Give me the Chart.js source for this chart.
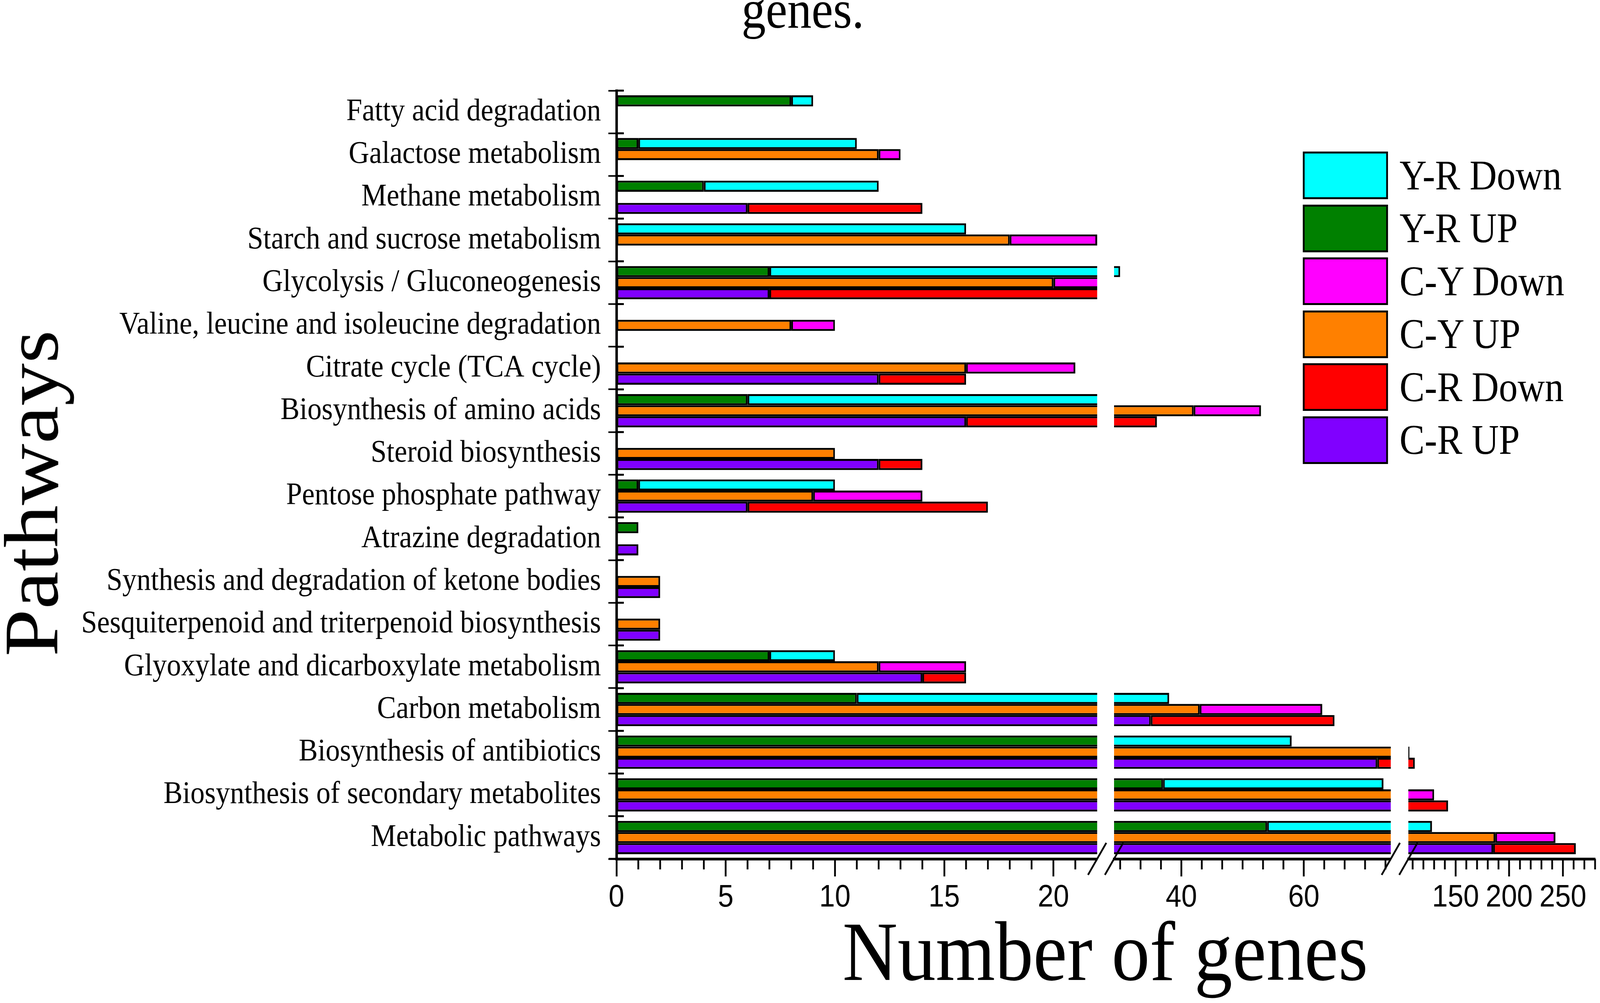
<!DOCTYPE html>
<html>
<head>
<meta charset="utf-8">
<title>Pathways / Number of genes</title>
<script src="https://cdn.jsdelivr.net/npm/chart.js@4.4.1/dist/chart.umd.min.js"></script>
<style>
  html, body { margin: 0; padding: 0; background: #fff; overflow: hidden; }
  #wrap { position: absolute; left: 0; top: 0; width: 4550px; height: 2568px; overflow: hidden;
          transform-origin: 0 0;
          font-family: "Liberation Serif", "Times New Roman", serif; color: #000; }
  #wrap canvas { position: absolute; left: 0; top: 0; }
  .txt { position: absolute; white-space: nowrap; line-height: 1; }
  #topTitle { left: 2283px; top: -44px; font-size: 138px; transform: translateX(-50%); }
  #xTitle { left: 3143px; top: 2328px; font-size: 217px; transform: translateX(-50%); }
  #yTitle { left: 90px; top: 1263px; font-size: 218px; transform: translate(-50%, -50%) rotate(-90deg); }
  .lg-item { position: absolute; left: 3705px; height: 122px; display: flex; align-items: center; }
  .lg-box { width: 242px; height: 122px; box-sizing: border-box; border: 5px solid #000; }
  .lg-text { margin-left: 33px; font-size: 107px; line-height: 1; white-space: nowrap; }
</style>
</head>
<body>
<div id="wrap">
  <canvas id="seg1" width="4550" height="2568"></canvas>
  <canvas id="seg2" width="4550" height="2568"></canvas>
  <canvas id="seg3" width="4550" height="2568"></canvas>
  <div class="txt" id="topTitle">genes.</div>
  <div class="txt" id="yTitle">Pathways</div>
  <div class="txt" id="xTitle">Number of genes</div>
  <div id="legend"></div>
</div>
<script>
// categories, top to bottom
const pathways = [
  "Fatty acid degradation",
  "Galactose metabolism",
  "Methane metabolism",
  "Starch and sucrose metabolism",
  "Glycolysis / Gluconeogenesis",
  "Valine, leucine and isoleucine degradation",
  "Citrate cycle (TCA cycle)",
  "Biosynthesis of amino acids",
  "Steroid biosynthesis",
  "Pentose phosphate pathway",
  "Atrazine degradation",
  "Synthesis and degradation of ketone bodies",
  "Sesquiterpenoid and triterpenoid biosynthesis",
  "Glyoxylate and dicarboxylate metabolism",
  "Carbon metabolism",
  "Biosynthesis of antibiotics",
  "Biosynthesis of secondary metabolites",
  "Metabolic pathways"
];

// gene counts (Down is stacked after UP)
const yrUp   = [8, 1, 4, 0, 7, 0, 0, 6, 0, 1, 1, 0, 0, 7, 11, 26, 37, 54];
const yrDown = [1, 10, 8, 16, 23, 0, 0, 19, 0, 9, 0, 0, 0, 3, 27, 32, 36, 74];
const cyUp   = [0, 12, 0, 18, 20, 8, 16, 42, 10, 9, 0, 2, 2, 12, 43, 107, 90, 187];
const cyDown = [0, 1, 0, 4, 3, 2, 5, 11, 0, 5, 0, 0, 0, 4, 20, 0, 40, 56];
const crUp   = [0, 0, 6, 0, 7, 0, 12, 16, 12, 6, 1, 2, 2, 14, 35, 72, 95, 185];
const crDown = [0, 0, 8, 0, 17, 0, 4, 20, 2, 11, 0, 0, 0, 2, 30, 40, 48, 77];

// broken x axis: three segments
const seg1Range = [0, 22];
const seg2Range = [29, 74.2];
const seg3Range = [106, 280];
const seg1Ticks = [0, 5, 10, 15, 20];
const seg2Ticks = [40, 60];
const seg3Ticks = [150, 200, 250];

const series = [
  { label: "Y-R UP",   data: yrUp,   color: "#008000", stack: "YR" },
  { label: "Y-R Down", data: yrDown, color: "#00FFFF", stack: "YR" },
  { label: "C-Y UP",   data: cyUp,   color: "#FF8000", stack: "CY" },
  { label: "C-Y Down", data: cyDown, color: "#FF00FF", stack: "CY" },
  { label: "C-R UP",   data: crUp,   color: "#8000FF", stack: "CR" },
  { label: "C-R Down", data: crDown, color: "#FF0000", stack: "CR" }
];
const legendOrder = ["Y-R Down", "Y-R UP", "C-Y Down", "C-Y UP", "C-R Down", "C-R UP"];

// stretch the 4550x2568 layout over the viewport we actually get
const PAGE_W = 4550, PAGE_H = 2568;
const sx = (window.innerWidth / PAGE_W) || 1;
const sy = (window.innerHeight / PAGE_H) || 1;
document.getElementById("wrap").style.transform = "scale(" + sx + "," + sy + ")";

// minor ticks (axis decoration only)
function minorTicks(from, to, step, majors) {
  const out = [];
  for (let v = from; v <= to + 1e-6; v += step) {
    if (!majors.some(m => Math.abs(m - v) < 1e-6)) out.push(v);
  }
  return out;
}
const seg1Minor = minorTicks(1, 21, 1, seg1Ticks);
const seg2Minor = minorTicks(30, 74, 20 / 6, seg2Ticks);
const seg3Minor = minorTicks(110, 280, 10, seg3Ticks);

const AXIS_BOTTOM = 2199;
const PLOT_TOP = 232;
const X_AXIS_H = 170;

const decor = {
  id: "decor",
  afterDraw(chart, args, opts) {
    const { ctx, chartArea: a, scales } = chart;
    ctx.save();
    ctx.strokeStyle = "#000";
    ctx.lineWidth = 5;
    ctx.beginPath();
    opts.minor.forEach(v => {
      const px = scales.x.getPixelForValue(v);
      ctx.moveTo(px, a.bottom);
      ctx.lineTo(px, a.bottom + 27);
    });
    if (opts.innerTicks) {
      for (let i = 0; i <= pathways.length; i++) {
        const py = scales.y.getPixelForValue(i - 0.5);
        ctx.moveTo(a.left, py);
        ctx.lineTo(a.left + 21, py);
      }
      // axis line runs a little past the y axis, as in the original
      ctx.moveTo(a.left - 22, a.bottom);
      ctx.lineTo(a.left, a.bottom);
    }
    ctx.stroke();
    // axis break slashes
    opts.breaks.forEach(side => {
      const cx = side === "left" ? a.left : a.right;
      ctx.beginPath();
      ctx.moveTo(cx - 26, a.bottom + 41);
      ctx.lineTo(cx + 26, a.bottom - 41);
      ctx.stroke();
    });
    ctx.restore();
  }
};

function datasets() {
  return series.map(s => ({
    label: s.label,
    data: s.data,
    stack: s.stack,
    backgroundColor: s.color,
    borderColor: "#000",
    borderWidth: 5,
    borderSkipped: false,
    inflateAmount: 0,
    categoryPercentage: 0.78,
    barPercentage: 1.0,
    clip: 0
  }));
}

function xScale(range, majors) {
  return {
    type: "linear",
    stacked: true,
    min: range[0],
    max: range[1],
    afterBuildTicks: s => { s.ticks = majors.map(v => ({ value: v })); },
    afterFit: s => { s.height = X_AXIS_H; },
    border: { display: true, color: "#000", width: 7 },
    grid: { display: true, drawOnChartArea: false, tickLength: 45, tickWidth: 5, tickColor: "#000" },
    ticks: {
      color: "#000", padding: 7, maxRotation: 0, autoSkip: false,
      font: { family: "'Liberation Sans', Arial, sans-serif", size: 80 }
    }
  };
}

function makeChart(id, range, majors, minor, padLeft, padRight, showY, breaks) {
  const yScale = showY ? {
    type: "category",
    stacked: true,
    offset: true,
    afterFit: s => { s.width = 1753 - padLeft; },
    border: { display: true, color: "#000", width: 7 },
    grid: { display: true, offset: true, drawOnChartArea: false, tickLength: 23, tickWidth: 4, tickColor: "#000" },
    ticks: {
      color: "#000", padding: 21, autoSkip: false,
      font: { family: "'Liberation Serif', 'Times New Roman', serif", size: 81 }
    }
  } : { type: "category", stacked: true, offset: true, display: false };

  return new Chart(document.getElementById(id), {
    type: "bar",
    data: { labels: pathways, datasets: datasets() },
    options: {
      indexAxis: "y",
      responsive: false,
      animation: false,
      devicePixelRatio: 1,
      layout: {
        padding: { left: padLeft, right: padRight, top: PLOT_TOP, bottom: PAGE_H - AXIS_BOTTOM - X_AXIS_H }
      },
      plugins: {
        legend: { display: false },
        tooltip: { enabled: false },
        decor: { minor: minor, innerTicks: showY, breaks: breaks }
      },
      scales: { x: xScale(range, majors), y: yScale }
    },
    plugins: [decor]
  });
}

makeChart("seg1", seg1Range, seg1Ticks, seg1Minor, 0, PAGE_W - 3120, true, ["right"]);
makeChart("seg2", seg2Range, seg2Ticks, seg2Minor, 3168, PAGE_W - 3955, false, ["left", "right"]);
makeChart("seg3", seg3Range, seg3Ticks, seg3Minor, 4005, PAGE_W - 4536, false, ["left"]);

// legend
const legend = document.getElementById("legend");
legendOrder.forEach((name, i) => {
  const s = series.find(d => d.label === name);
  const item = document.createElement("div");
  item.className = "lg-item";
  item.style.top = (388 + i * 135.5) + "px";
  const box = document.createElement("div");
  box.className = "lg-box";
  box.style.background = s.color;
  const text = document.createElement("div");
  text.className = "lg-text";
  text.textContent = s.label;
  item.appendChild(box);
  item.appendChild(text);
  legend.appendChild(item);
});
</script>
</body>
</html>
